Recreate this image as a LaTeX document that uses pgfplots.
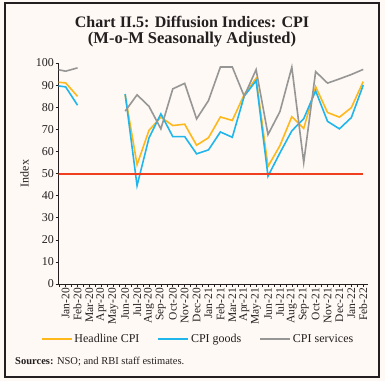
\documentclass[border=0pt]{standalone}
\usepackage{fontspec}
\setmainfont{Liberation Serif}
\usepackage{pgfplots}
\pgfplotsset{compat=1.18}
\usepackage{pgfplotstable}
\definecolor{bg}{RGB}{254,249,244}
\definecolor{hcpi}{RGB}{255,184,28}
\definecolor{gcpi}{RGB}{32,182,236}
\definecolor{scpi}{RGB}{150,150,150}
\definecolor{redl}{RGB}{240,62,32}
\definecolor{txt}{RGB}{35,31,32}

% x: Dec-19 = -1, Jan-20 = 0, ..., Feb-22 = 25
\pgfplotstableread{
x   h     g     s
-1  91.5  89.9  97.4
0   91.0  89.2  96.3
1   84.9  80.9  97.8
2   nan   nan   nan
3   nan   nan   nan
4   nan   nan   nan
5   85.5  86.0  78.2
6   54.0  44.5  85.6
7   69.5  66.1  80.4
8   75.5  77.0  70.2
9   71.7  66.7  88.3
10  72.3  66.7  90.8
11  62.8  58.9  74.7
12  66.2  60.7  83.0
13  75.6  68.8  98.2
14  74.0  66.4  98.2
15  85.7  85.0  85.0
16  93.1  92.0  97.0
17  53.2  48.8  67.6
18  62.6  59.3  78.0
19  75.7  69.3  98.1
20  70.4  74.8  55.0
21  89.3  87.4  96.1
22  77.6  73.6  90.9
23  75.5  70.2  92.8
24  79.8  75.3  94.8
25  91.6  90.0  97.1
}\cpidata

\begin{document}
\begin{tikzpicture}
\fill[bg] (0pt,0pt) rectangle (385pt,-381pt);
\draw[line width=1.3pt, color=txt] (5pt,-3pt) rectangle (379pt,-377pt);
\node[anchor=base, font=\fontsize{16}{16}\selectfont\bfseries, text=txt] at (192pt,-27pt) {Chart II.5: Diffusion Indices: CPI};
\node[anchor=base, font=\fontsize{16.5}{16.5}\selectfont\bfseries, text=txt] at (192pt,-43pt) {(M-o-M Seasonally Adjusted)};
\node[anchor=base west, font=\fontsize{10.5}{10.5}\selectfont, text=txt, inner sep=0pt] at (15pt,-364pt) {\textbf{Sources:} NSO; and RBI staff estimates.};
\begin{axis}[
  at={(58.5pt,-284pt)}, anchor=south west,
  scale only axis, width=309.5pt, height=221pt,
  xmin=-0.6, xmax=25.4, ymin=0, ymax=100,
  axis x line*=bottom, axis y line*=left,
  axis line style={txt, line width=0.8pt},
  tick align=outside,
  major tick length=3pt, minor tick length=3pt,
  tick style={txt, line width=0.6pt},
  xtick={0,...,25},
  xticklabels={Jan-20,Feb-20,Mar-20,Apr-20,May-20,Jun-20,Jul-20,Aug-20,Sep-20,Oct-20,Nov-20,Dec-20,Jan-21,Feb-21,Mar-21,Apr-21,May-21,Jun-21,Jul-21,Aug-21,Sep-21,Oct-21,Nov-21,Dec-21,Jan-22,Feb-22},
  minor xtick={-0.5,0.5,...,24.5},
  ytick={0,10,...,100},
  xticklabel style={rotate=90, anchor=east, font=\fontsize{11.5}{11.5}\selectfont, inner sep=1pt, text=txt},
  yticklabel style={font=\fontsize{12}{12}\selectfont, inner sep=1.5pt, text=txt},
  /pgf/number format/assume math mode=true,
  ylabel={Index},
  ylabel style={font=\fontsize{12}{12}\selectfont, at={(axis description cs:-0.11,0.5)}, anchor=center, text=txt},
  unbounded coords=jump,
  legend columns=3,
  legend style={at={(axis description cs:0.451,-0.249)}, anchor=center, draw=none, fill=none,
    font=\fontsize{12}{12}\selectfont, text=txt,
    /tikz/every even column/.append style={column sep=16pt}},
  legend image code/.code={\draw[#1] (0pt,0pt) -- (30pt,0pt);},
]
\addplot[hcpi, line width=1.6pt] table[x=x, y=h] {\cpidata};
\addlegendentry{Headline CPI}
\addplot[gcpi, line width=1.6pt] table[x=x, y=g] {\cpidata};
\addlegendentry{CPI goods}
\addplot[scpi, line width=1.6pt] table[x=x, y=s] {\cpidata};
\addlegendentry{CPI services}
\addplot[redl, line width=2pt, forget plot] coordinates {(-1,50) (25,50)};
\end{axis}
\end{tikzpicture}
\end{document}
